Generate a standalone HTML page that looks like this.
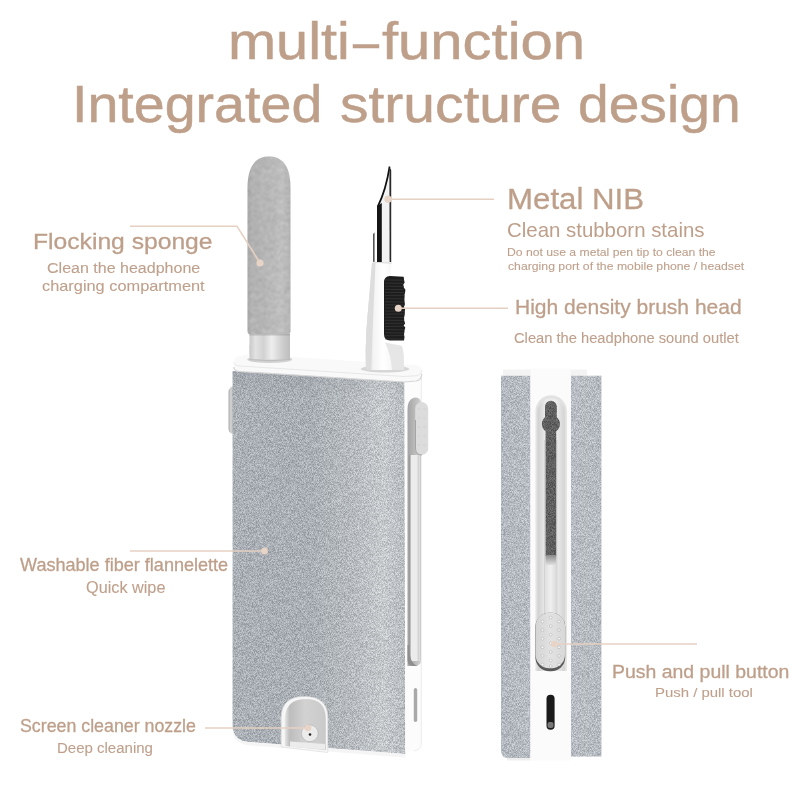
<!DOCTYPE html>
<html><head><meta charset="utf-8"><style>
html,body{margin:0;padding:0;background:#fff;}
body{width:800px;height:800px;position:relative;overflow:hidden;}
svg.p{position:absolute;left:0;top:0;}
.t{position:absolute;font-family:"Liberation Sans",sans-serif;line-height:1;white-space:nowrap;transform-origin:0 0;color:#BE9F8A;}
.sub{color:#BFA08C;}
.title{-webkit-text-stroke:0.5px #BE9F8A;}
.lab{-webkit-text-stroke:0.3px #BE9F8A;}
.sub{-webkit-text-stroke:0.1px #BFA08C;}
</style></head><body>
<svg class="p" width="800" height="800" viewBox="0 0 800 800">
<defs>
  <filter id="nz" x="0" y="0" width="800" height="800" filterUnits="userSpaceOnUse" color-interpolation-filters="sRGB">
    <feTurbulence type="fractalNoise" baseFrequency="2.5" numOctaves="1" seed="4"/>
    <feColorMatrix type="matrix" values="3 0 0 0 -1  3 0 0 0 -1  3 0 0 0 -1  0 0 0 0 0.19"/>
    <feGaussianBlur stdDeviation="0.55"/>
  </filter>
  <filter id="nz2" x="0" y="0" width="800" height="800" filterUnits="userSpaceOnUse" color-interpolation-filters="sRGB">
    <feTurbulence type="fractalNoise" baseFrequency="1.6" numOctaves="2" seed="11"/>
    <feColorMatrix type="matrix" values="3 0 0 0 -1  3 0 0 0 -1  3 0 0 0 -1  0 0 0 0 0.15"/>
    <feGaussianBlur stdDeviation="0.85"/>
  </filter>
  <linearGradient id="gBody" x1="232" y1="0" x2="405" y2="0" gradientUnits="userSpaceOnUse">
    <stop offset="0" stop-color="#b5bcc3"/>
    <stop offset="0.45" stop-color="#b3bac1"/>
    <stop offset="0.72" stop-color="#c6cbd0"/>
    <stop offset="0.88" stop-color="#d6dbdf"/>
    <stop offset="1" stop-color="#c6cbd0"/>
  </linearGradient>
  <linearGradient id="gSponge" x1="247" y1="0" x2="290" y2="0" gradientUnits="userSpaceOnUse">
    <stop offset="0" stop-color="#b0b0b0"/>
    <stop offset="0.12" stop-color="#bcbcbc"/>
    <stop offset="0.5" stop-color="#c0c0c0"/>
    <stop offset="0.82" stop-color="#cacaca"/>
    <stop offset="1" stop-color="#bdbdbd"/>
  </linearGradient>
  <linearGradient id="gCollar" x1="249.5" y1="0" x2="290" y2="0" gradientUnits="userSpaceOnUse">
    <stop offset="0" stop-color="#c9c9c9"/>
    <stop offset="0.15" stop-color="#e2e2e2"/>
    <stop offset="0.35" stop-color="#d2d2d2"/>
    <stop offset="0.55" stop-color="#eeeeee"/>
    <stop offset="0.8" stop-color="#cfcfcf"/>
    <stop offset="1" stop-color="#bdbdbd"/>
  </linearGradient>
  <linearGradient id="gSideL" x1="501" y1="0" x2="531" y2="0" gradientUnits="userSpaceOnUse">
    <stop offset="0" stop-color="#bfc6cd"/>
    <stop offset="1" stop-color="#c3cad1"/>
  </linearGradient>
  <linearGradient id="gSideR" x1="571" y1="0" x2="602" y2="0" gradientUnits="userSpaceOnUse">
    <stop offset="0" stop-color="#c6ccd3"/>
    <stop offset="1" stop-color="#c2c8cf"/>
  </linearGradient>
  <linearGradient id="gHandle" x1="366" y1="0" x2="404" y2="0" gradientUnits="userSpaceOnUse">
    <stop offset="0" stop-color="#d0d0d0"/>
    <stop offset="0.2" stop-color="#f4f4f4"/>
    <stop offset="0.45" stop-color="#ffffff"/>
    <stop offset="1" stop-color="#ececec"/>
  </linearGradient>
  <linearGradient id="gBtn" x1="0" y1="0" x2="1" y2="0">
    <stop offset="0" stop-color="#cfcfcf"/>
    <stop offset="1" stop-color="#e2e2e2"/>
  </linearGradient>
  <clipPath id="cBody"><path d="M232.6,371 L404.5,381.5 L405.3,754 L248,742 Q232.6,740.5 232.6,726 Z"/></clipPath>
  <clipPath id="cSponge"><path d="M247.5,331 Q247.5,334.5 251,334.8 L287,334.8 Q290.5,334.5 290.5,331 L290.5,188 C290.5,164 281,156.5 269,156.5 C257,156.5 247.5,164 247.5,188 Z"/></clipPath>
  <clipPath id="cSideL"><path d="M501,375.8 L530.5,375.8 L530.5,758 L507,758 Q501,757 501,750 Z"/></clipPath>
  <clipPath id="cSideR"><path d="M570.8,375.8 L601.4,375.8 L601.4,756.4 L570.8,756.4 Z"/></clipPath>
  <linearGradient id="gNoz" x1="284.8" y1="0" x2="325.8" y2="0" gradientUnits="userSpaceOnUse">
    <stop offset="0" stop-color="#e6e6e6"/>
    <stop offset="0.12" stop-color="#bdbdbd"/>
    <stop offset="0.5" stop-color="#d2d2d2"/>
    <stop offset="1" stop-color="#c9c9c9"/>
  </linearGradient>
  <linearGradient id="gBump" x1="228.5" y1="0" x2="233" y2="0" gradientUnits="userSpaceOnUse">
    <stop offset="0" stop-color="#a9a9a9"/>
    <stop offset="0.5" stop-color="#d4d4d4"/>
    <stop offset="1" stop-color="#bdbdbd"/>
  </linearGradient>
  <linearGradient id="gHous" x1="407.5" y1="0" x2="421" y2="0" gradientUnits="userSpaceOnUse">
    <stop offset="0" stop-color="#a4a4a4"/>
    <stop offset="0.6" stop-color="#bdbdbd"/>
    <stop offset="1" stop-color="#cfcfcf"/>
  </linearGradient>
  <linearGradient id="gTopSh" x1="0" y1="370" x2="0" y2="400" gradientUnits="userSpaceOnUse">
    <stop offset="0" stop-color="#7a8188" stop-opacity="0.18"/>
    <stop offset="1" stop-color="#7a8188" stop-opacity="0"/>
  </linearGradient>
  <linearGradient id="gChan" x1="537.5" y1="0" x2="564.8" y2="0" gradientUnits="userSpaceOnUse">
    <stop offset="0" stop-color="#cfcfcf"/>
    <stop offset="0.3" stop-color="#ececec"/>
    <stop offset="0.7" stop-color="#ececec"/>
    <stop offset="1" stop-color="#d3d3d3"/>
  </linearGradient>
  <linearGradient id="gRail" x1="544.6" y1="0" x2="556.8" y2="0" gradientUnits="userSpaceOnUse">
    <stop offset="0" stop-color="#dedede"/>
    <stop offset="0.5" stop-color="#f0f0f0"/>
    <stop offset="1" stop-color="#d8d8d8"/>
  </linearGradient>
  <linearGradient id="gRailEnd" x1="0" y1="555" x2="0" y2="565" gradientUnits="userSpaceOnUse">
    <stop offset="0" stop-color="#8a8a8a"/>
    <stop offset="1" stop-color="#e0e0e0"/>
  </linearGradient>
  <linearGradient id="gBtnFace" x1="535.6" y1="0" x2="565" y2="0" gradientUnits="userSpaceOnUse">
    <stop offset="0" stop-color="#d4d4d4"/>
    <stop offset="0.5" stop-color="#e2e2e2"/>
    <stop offset="1" stop-color="#d8d8d8"/>
  </linearGradient>
  <clipPath id="cRail"><rect x="545" y="400.7" width="11.8" height="30" rx="5.9"/><circle cx="550.9" cy="424" r="9"/><rect x="545.6" y="420" width="10.6" height="136"/></clipPath>
</defs>

<!-- ========== main product ========== -->
<!-- left side bump -->
<path d="M233,386 L230.5,387.5 Q228.5,389 228.5,393 L228.5,428 Q228.5,432 230.5,433 L233,434 Z" fill="url(#gBump)"/>

<!-- sponge -->
<g clip-path="url(#cSponge)">
  <rect x="240" y="150" width="60" height="190" fill="url(#gSponge)"/>
  <rect x="240" y="150" width="60" height="190" filter="url(#nz2)"/>
</g>
<!-- collar -->
<rect x="249.5" y="334" width="40.5" height="28" fill="url(#gCollar)"/>
<rect x="249.5" y="334" width="40.5" height="1.5" fill="#9a9a9a" opacity="0.5"/>

<!-- body front -->
<g clip-path="url(#cBody)">
  <rect x="225" y="360" width="185" height="400" fill="url(#gBody)"/>
  <rect x="225" y="360" width="185" height="400" filter="url(#nz)"/>
  <rect x="225" y="360" width="185" height="40" fill="url(#gTopSh)"/>
</g>
<!-- bottom white strip below body -->
<path d="M232.8,726 Q233,741 250,742 L405.3,754 L405.3,757.5 L250,745.5 Q232.8,744 232.8,730 Z" fill="#f5f5f5"/>

<!-- right white side panel -->
<path d="M404.5,376 L421.8,371 L421.8,744 Q421.5,750.5 414,751 L405.3,752 Z" fill="#fcfcfc"/>
<path d="M421.3,372 L421.3,744 Q421,750 414,750.8" stroke="#ebebeb" stroke-width="0.9" fill="none"/>
<!-- slot channel -->
<path d="M407.5,666 L407.5,410 Q407.5,398 416,397.5 Q421,397.5 421,404 L421,660 Q421,666 414,666 Z" fill="url(#gHous)"/>
<rect x="408.8" y="455" width="1.8" height="205" fill="#9a9a9a"/>
<rect x="410.6" y="455" width="9" height="206" fill="#ececec"/>
<rect x="417.5" y="455" width="1.5" height="206" fill="#d2d2d2"/>
<path d="M407.5,645 L407.5,660 Q407.5,666 414,666 L418,666 Q409,664 409,645 Z" fill="#8e8e8e"/>
<!-- side button -->
<rect x="415.2" y="402" width="13" height="53" rx="6.5" fill="#dcdcdc"/>
<path d="M415.5,420 L415.5,448 Q415.5,455 422,455" stroke="#a5a5a5" stroke-width="1" fill="none"/>
<g fill="#f4f4f4" stroke="#b8b8b8" stroke-width="0.4">
  <circle cx="419" cy="409" r="0.8"/><circle cx="424.5" cy="409" r="0.8"/>
  <circle cx="419" cy="418" r="0.8"/><circle cx="424.5" cy="418" r="0.8"/>
  <circle cx="419" cy="427" r="0.8"/><circle cx="424.5" cy="427" r="0.8"/>
  <circle cx="419" cy="436" r="0.8"/><circle cx="424.5" cy="436" r="0.8"/>
  <circle cx="419" cy="445" r="0.8"/><circle cx="424.5" cy="445" r="0.8"/>
</g>
<!-- small slot -->
<rect x="413.8" y="688" width="3.4" height="34" rx="1.7" fill="#a9a9a9"/>

<!-- nozzle arch -->
<path d="M281.2,747 L281.2,718 Q281.2,696.5 304.5,696.5 Q327.8,696.5 327.8,718 L327.8,752.5 Z" fill="#f6f6f6" stroke="#d8d8d8" stroke-width="0.6"/>
<path d="M284.8,746 L284.8,719 Q285.5,699 306,699 Q325.8,699 325.8,719 L325.8,750 Z" fill="url(#gNoz)"/>
<path d="M290,741.5 L325,744 L325,749.5 L290,747 Z" fill="#ececec"/>
<circle cx="309.8" cy="733.3" r="8.4" fill="#ebebeb" stroke="#b5b5b5" stroke-width="0.7"/>
<circle cx="310" cy="734.5" r="1.3" fill="#222"/>

<!-- top plate -->
<path d="M240,356 Q234,357 233.8,361 L233.6,366 Q233.8,370.5 238,371 L404,382 L416,381 Q421.8,380 421.8,374 L421.8,370 Q421.5,366 415,365 L252,354.4 Q246,354.2 240,356 Z" fill="#f9f9f9"/>
<path d="M233.7,362.5 Q234.5,365.5 240,366 L404,376.5 L416,375.8 Q421.5,375 421.8,370" fill="none" stroke="#e8e8e8" stroke-width="1"/>
<path d="M233.8,367 Q234,371 239,371.5 L404,382 L416,381 Q421.8,380 421.8,374" fill="none" stroke="#d6d6d6" stroke-width="1.2"/>
<!-- sponge hole -->
<ellipse cx="269.7" cy="359.5" rx="22.5" ry="3.4" fill="#d2d2d2"/>
<rect x="249.5" y="345" width="40.5" height="14.5" fill="url(#gCollar)"/>
<path d="M249.5,359.5 Q269.8,362 290,359.5" fill="none" stroke="#b5b5b5" stroke-width="0.8"/>
<!-- brush hole -->
<ellipse cx="385" cy="369" rx="24.3" ry="3.5" fill="#d6d6d6"/>

<!-- brush handle -->
<path d="M372,263 L391.5,263 L385,342.5 L402,346 Q404,352 404,370 L366,370 Q365,350 366.5,330 Z" fill="url(#gHandle)"/>
<path d="M385,342.5 L402,346 Q404,352 404,370 L392,370 Q391,355 385,342.5 Z" fill="#e6e6e6"/>
<path d="M372,263 L375.5,263 L371,370 L366,370 Q365,340 368,310 Z" fill="#dddddd"/>
<!-- brush -->
<path d="M390,276 L403.5,276.8 L403.8,277.5 L404.1,280.1 L404.6,282.7 L403.3,284.6 L403.8,287.6 L405.4,289.7 L405.1,292.2 L404.6,294.6 L404.6,296.6 L404.4,299.7 L404.7,302.5 L404.9,304.4 L403.9,307.0 L405.1,308.8 L404.8,311.3 L404.8,314.3 L404.1,317.4 L404.2,320.4 L405.1,323.5 L403.6,325.4 L405.3,327.5 L404.6,329.9 L404.4,332.1 L404.0,334.5 L404.5,337.1 L404.0,340.4 L390,340.4 Q384,340.4 384,334 L384,282.5 Q384,276 390,276 Z" fill="#1d1d1d"/>
<g stroke="#3b3b3b" stroke-width="0.7" fill="none"><path d="M385,280.0 L404,280.1"/><path d="M385,283.1 L404,283.4"/><path d="M385,286.2 L404,286.5"/><path d="M385,289.3 L404,289.7"/><path d="M385,292.4 L404,292.5"/><path d="M385,295.5 L404,295.2"/><path d="M385,298.6 L404,298.9"/><path d="M385,301.7 L404,302.1"/><path d="M385,304.8 L404,305.1"/><path d="M385,307.9 L404,308.0"/><path d="M385,311.0 L404,311.2"/><path d="M385,314.1 L404,313.9"/><path d="M385,317.2 L404,317.5"/><path d="M385,320.3 L404,320.4"/><path d="M385,323.4 L404,323.2"/><path d="M385,326.5 L404,326.2"/><path d="M385,329.6 L404,329.9"/><path d="M385,332.7 L404,333.1"/><path d="M385,335.8 L404,335.5"/><path d="M385,338.9 L404,339.1"/></g>
<!-- nib -->
<path d="M389.6,166.5 L391.6,172 L391.6,263 L377,263 L377,207 Q385.5,190 389.6,166.5 Z" fill="#f3f3f3"/>
<path d="M389.6,166.5 Q386,190 377.8,206.5" fill="none" stroke="#111" stroke-width="1.7"/>
<path d="M377,206 L381.8,203 L381.8,262 L377,262 Z" fill="#151515"/>
<path d="M389.4,167 L391.2,170 L391.2,262 L389.6,262 Z" fill="#2a2a2a"/>
<path d="M373,234 L374.6,232.5 L374.6,262 L373,262 Z" fill="#555"/>
<path d="M372.6,262.2 L391.6,263.2" stroke="#d0d0d0" stroke-width="0.8"/>

<!-- ========== side product ========== -->
<path d="M502.9,369.4 L587,369.4 L587,375.8 L502.9,375.8 Z" fill="#f3f3f3"/>
<g clip-path="url(#cSideL)">
  <rect x="495" y="370" width="40" height="395" fill="url(#gSideL)"/>
  <rect x="495" y="370" width="40" height="395" filter="url(#nz)"/>
</g>
<g clip-path="url(#cSideR)">
  <rect x="565" y="370" width="40" height="395" fill="url(#gSideR)"/>
  <rect x="565" y="370" width="40" height="395" filter="url(#nz)"/>
</g>
<path d="M507,758 L530.5,758 L530.5,760.5 L507,760.5 Z" fill="#eeeeee"/>
<rect x="530.5" y="368.6" width="40.3" height="392" fill="#fbfbfb"/>
<!-- slot -->
<path d="M535.5,671 L535.5,411 A15.65,15.65 0 0 1 566.8,411 L566.8,671 Z" fill="#e2e2e2"/>
<path d="M537.5,671 L537.5,412 A13.65,13.65 0 0 1 564.8,412 L564.8,671 Z" fill="url(#gChan)"/>
<rect x="544.6" y="440" width="12.2" height="175" fill="url(#gRail)"/>
<rect x="544.2" y="440" width="0.8" height="175" fill="#cfcfcf"/>
<rect x="556.6" y="440" width="0.8" height="175" fill="#cfcfcf"/>
<!-- dark rail -->
<g clip-path="url(#cRail)">
<rect x="540" y="398" width="22" height="160" fill="#5a5a5a"/>
<rect x="540" y="398" width="22" height="160" filter="url(#nz)" opacity="0.8"/>
</g>
<rect x="545.6" y="555" width="10.6" height="10" fill="url(#gRailEnd)"/>
<!-- button -->
<rect x="535.4" y="612.8" width="29.8" height="58.5" rx="14" fill="#5a5a5a"/>
<rect x="535.6" y="612.8" width="29.4" height="55.5" rx="13.5" fill="url(#gBtnFace)"/>
<g fill="#f6f6f6" stroke="#a8a8a8" stroke-width="0.5"><circle cx="542.5" cy="621.5" r="1.4"/><circle cx="559" cy="621.5" r="1.4"/><circle cx="550.7" cy="617.5" r="1.4"/><circle cx="542.5" cy="630.1" r="1.4"/><circle cx="559" cy="630.1" r="1.4"/><circle cx="550.7" cy="626.1" r="1.4"/><circle cx="542.5" cy="638.7" r="1.4"/><circle cx="559" cy="638.7" r="1.4"/><circle cx="550.7" cy="634.7" r="1.4"/><circle cx="542.5" cy="647.3" r="1.4"/><circle cx="559" cy="647.3" r="1.4"/><circle cx="550.7" cy="643.3" r="1.4"/><circle cx="542.5" cy="655.9" r="1.4"/><circle cx="559" cy="655.9" r="1.4"/><circle cx="550.7" cy="651.9" r="1.4"/><circle cx="542.5" cy="664.5" r="1.4"/><circle cx="559" cy="664.5" r="1.4"/><circle cx="550.7" cy="660.5" r="1.4"/><circle cx="550.7" cy="666" r="1.4"/></g>
<!-- black slot -->
<rect x="546.5" y="694.7" width="8.1" height="35" rx="4" fill="#1a1a1a"/>
<rect x="547.5" y="722" width="6" height="6" rx="2" fill="#777"/>

<!-- leader lines -->
<g stroke="#E6D0C2" stroke-width="1.6" fill="none">
  <polyline points="130,226.2 237,226.2 260,263"/>
  <line x1="388" y1="199.2" x2="494" y2="199.2"/>
  <line x1="398" y1="308.2" x2="508" y2="308.2"/>
  <line x1="130" y1="551" x2="264.5" y2="551"/>
  <line x1="205" y1="728" x2="308" y2="728"/>
  <line x1="554" y1="644" x2="697" y2="644"/>
</g>
<g fill="#E8D4C6">
  <circle cx="260" cy="263" r="3.6"/>
  <circle cx="388" cy="199.2" r="3.6"/>
  <circle cx="398.3" cy="308.3" r="3.5"/>
  <circle cx="264.5" cy="551" r="3.4"/>
  <circle cx="308" cy="728" r="3.3"/>
  <circle cx="554.3" cy="644" r="3.3"/>
</g>
</svg>

<span class="t title" style="left:227.96px;top:16.11px;font-size:51.50px;transform:scaleX(1.1207)">multi</span>
<span class="t title" style="left:352.50px;top:16.11px;font-size:51.50px;transform:scaleX(0.9085)">–</span>
<span class="t title" style="left:381.62px;top:16.11px;font-size:51.50px;transform:scaleX(1.1254)">function</span>
<span class="t title" style="left:72.00px;top:77.56px;font-size:52.50px;transform:scaleX(1.0586)">Integrated</span>
<span class="t title" style="left:339.54px;top:77.56px;font-size:52.50px;transform:scaleX(1.0845)">structure</span>
<span class="t title" style="left:577.79px;top:77.56px;font-size:52.50px;transform:scaleX(1.0510)">design</span>
<span class="t lab" style="left:33.03px;top:229.55px;font-size:22.68px;transform:scaleX(1.0875)">Flocking sponge</span>
<span class="t sub" style="left:47.30px;top:261.18px;font-size:14.86px;transform:scaleX(1.0784)">Clean the headphone</span>
<span class="t sub" style="left:42.45px;top:278.20px;font-size:15.41px;transform:scaleX(1.0612)">charging compartment</span>
<span class="t lab" style="left:506.50px;top:183.73px;font-size:29.86px;transform:scaleX(1.0457)">Metal NIB</span>
<span class="t lab2" style="left:507.38px;top:219.82px;font-size:20.29px;transform:scaleX(1.0068)">Clean stubborn stains</span>
<span class="t sub" style="left:507.22px;top:247.01px;font-size:11.80px;transform:scaleX(1.0329)">Do not use a metal pen tip to clean the</span>
<span class="t sub" style="left:507.71px;top:261.01px;font-size:11.80px;transform:scaleX(1.0377)">charging port of the mobile phone / headset</span>
<span class="t lab" style="left:514.57px;top:297.10px;font-size:20.43px;transform:scaleX(1.0291)">High density brush head</span>
<span class="t sub" style="left:514.26px;top:331.48px;font-size:14.49px;transform:scaleX(1.0148)">Clean the headphone sound outlet</span>
<span class="t lab" style="left:19.62px;top:556.97px;font-size:17.75px;transform:scaleX(1.0175)">Washable fiber flannelette</span>
<span class="t sub" style="left:86.19px;top:579.26px;font-size:16.23px;transform:scaleX(1.0011)">Quick wipe</span>
<span class="t lab" style="left:20.31px;top:718.22px;font-size:17.75px;transform:scaleX(1.0018)">Screen cleaner nozzle</span>
<span class="t sub" style="left:56.80px;top:739.62px;font-size:15.22px;transform:scaleX(0.9857)">Deep cleaning</span>
<span class="t lab" style="left:612.44px;top:662.76px;font-size:18.12px;transform:scaleX(1.0738)">Push and pull button</span>
<span class="t sub" style="left:654.81px;top:686.19px;font-size:13.36px;transform:scaleX(1.1167)">Push / pull tool</span>
</body></html>
